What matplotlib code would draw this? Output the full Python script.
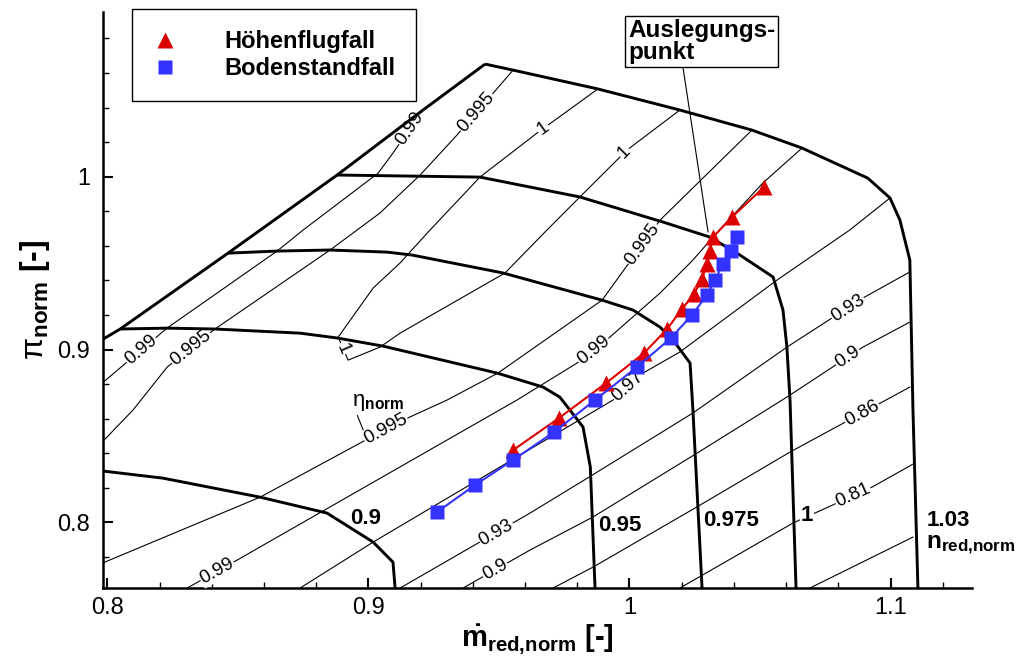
import numpy as np
import matplotlib.pyplot as plt
from matplotlib.lines import Line2D
from matplotlib.ticker import MultipleLocator

plt.rcParams['font.family'] = ['Liberation Sans', 'DejaVu Sans']
plt.rcParams['mathtext.fontset'] = 'custom'
plt.rcParams['mathtext.rm'] = 'Liberation Sans'
plt.rcParams['mathtext.bf'] = 'Liberation Sans:bold'
plt.rcParams['mathtext.it'] = 'Liberation Sans:italic'

# %% Map data

# surge line
surge_x = [0.7984, 0.8049, 0.8462, 0.8880, 0.9209, 0.9447]
surge_y = [0.9061, 0.9119, 0.9558, 1.0010, 1.0386, 1.0652]

# speed lines n_red,norm
n090_x = [0.7984, 0.8213, 0.8585, 0.8841, 0.9018, 0.9094, 0.9102]
n090_y = [0.8297, 0.8256, 0.8146, 0.8054, 0.7886, 0.7770, 0.7620]
n095_x = [0.8049, 0.8229, 0.8412, 0.8738, 0.8880, 0.9056, 0.9493, 0.9669, 0.9733, 0.9772, 0.9822, 0.9850, 0.9868]
n095_y = [0.9119, 0.9124, 0.9119, 0.9095, 0.9067, 0.9020, 0.8864, 0.8783, 0.8725, 0.8650, 0.8552, 0.8320, 0.7620]
n0975_x = [0.8462, 0.8650, 0.8853, 0.9071, 0.9167, 0.9516, 0.9895, 1.0013, 1.0117, 1.0167, 1.0232, 1.0243, 1.0278]
n0975_y = [0.9558, 0.9570, 0.9576, 0.9564, 0.9547, 0.9443, 0.9286, 0.9229, 0.9130, 0.9055, 0.8922, 0.8650, 0.7620]
n100_x = [0.8880, 0.9427, 0.9810, 1.0128, 1.0308, 1.0423, 1.0550, 1.0588, 1.0603, 1.0615, 1.0638]
n100_y = [1.0010, 0.9998, 0.9883, 0.9738, 0.9651, 0.9547, 0.9420, 0.9229, 0.9014, 0.8708, 0.7620]
n103_x = [0.9447, 0.9554, 0.9879, 1.0193, 1.0469, 1.0661, 1.0913, 1.0998, 1.1036, 1.1074, 1.1086, 1.1105]
n103_y = [1.0652, 1.0617, 1.0508, 1.0386, 1.0270, 1.0166, 0.9992, 0.9877, 0.9749, 0.9518, 0.8650, 0.7620]

# efficiency lines eta_norm
e0990a_x = [0.7980, 0.8229, 0.8650, 0.8750, 0.9037, 0.9094, 0.9201]
e0990a_y = [0.8806, 0.9125, 0.9570, 0.9692, 1.0021, 1.0137, 1.0374]
e0995a_x = [0.7980, 0.8098, 0.8229, 0.8412, 0.8853, 0.9044, 0.9198, 0.9339, 0.9554]
e0995a_y = [0.8465, 0.8650, 0.8899, 0.9119, 0.9576, 0.9790, 1.0010, 1.0241, 1.0617]
e1000_x = [0.9879, 0.9646, 0.9427, 0.9236, 0.9121, 0.9018, 0.8884, 0.8922, 0.9044, 0.9121, 0.9523, 0.9684, 0.9810, 0.9990, 1.0193]
e1000_y = [1.0508, 1.0253, 0.9998, 0.9692, 0.9501, 0.9356, 0.9072, 0.8939, 0.9014, 0.9095, 0.9443, 0.9692, 0.9883, 1.0154, 1.0386]
e0995b_x = [0.7980, 0.8585, 0.8968, 0.9133, 0.9301, 0.9496, 0.9895, 1.0117, 1.0469]
e0995b_y = [0.7764, 0.8146, 0.8459, 0.8592, 0.8708, 0.8864, 0.9286, 0.9749, 1.0270]
e0990b_x = [0.8305, 0.8497, 0.9569, 0.9799, 0.9925, 1.0117, 1.0243, 1.0320, 1.0511, 1.0661]
e0990b_y = [0.7620, 0.7782, 0.8708, 0.8922, 0.9072, 0.9327, 0.9518, 0.9651, 0.9964, 1.0166]
e0970_x = [0.8738, 0.9018, 0.9937, 1.0052, 1.0193, 1.0565, 1.0844, 1.0998]
e0970_y = [0.7620, 0.7886, 0.8708, 0.8864, 0.8986, 0.9402, 0.9692, 0.9877]
e0930_x = [0.9121, 0.9619, 0.9845, 1.0243, 1.0603, 1.0894, 1.1074]
e0930_y = [0.7620, 0.8054, 0.8262, 0.8633, 0.9014, 0.9298, 0.9449]
e0900_x = [0.9362, 0.9619, 0.9860, 1.0259, 1.0603, 1.0894, 1.1074]
e0900_y = [0.7620, 0.7840, 0.8031, 0.8401, 0.8725, 0.9014, 0.9159]
e0860_x = [0.9707, 0.9860, 1.0251, 1.0615, 1.1074]
e0860_y = [0.7620, 0.7741, 0.8083, 0.8407, 0.8783]
e0810_x = [1.0193, 1.0626, 1.0929, 1.1093]
e0810_y = [0.7620, 0.7996, 0.8204, 0.8343]
e_edge_x = [1.0691, 1.1086]
e_edge_y = [0.7620, 0.7915]

# operating lines
hoehe_x = [0.9554, 0.9730, 0.9910, 1.0056, 1.0144, 1.0201, 1.0247, 1.0278, 1.0297, 1.0308, 1.0320, 1.0393, 1.0515]
hoehe_y = [0.8418, 0.8604, 0.8806, 0.8980, 0.9119, 0.9234, 0.9321, 0.9408, 0.9495, 0.9570, 0.9651, 0.9767, 0.9940]
boden_x = [0.9263, 0.9408, 0.9554, 0.9711, 0.9868, 1.0029, 1.0159, 1.0239, 1.0297, 1.0327, 1.0358, 1.0389, 1.0412]
boden_y = [0.8060, 0.8216, 0.8361, 0.8523, 0.8708, 0.8899, 0.9067, 0.9200, 0.9315, 0.9402, 0.9495, 0.9570, 0.9651]
design_pt = (1.0301, 0.9680)

# %% Plot

fig = plt.figure(figsize=(10.16, 6.62), dpi=100)
ax = fig.add_axes([0.1011, 0.1122, 0.8553, 0.8696])
ax.set_xlim(0.7982, 1.1311)
ax.set_ylim(0.7622, 1.0953)

RED = "#dd0000"
BLUE = "#3333ff"


def tag(xs, ys, k, f, txt, size=13.5, ang=None):
    # label sitting on segment k of a polyline, blanking the line below it
    x = xs[k] + f * (xs[k + 1] - xs[k])
    y = ys[k] + f * (ys[k + 1] - ys[k])
    if ang is None:
        p0 = ax.transData.transform((xs[k], ys[k]))
        p1 = ax.transData.transform((xs[k + 1], ys[k + 1]))
        ang = np.degrees(np.arctan2(p1[1] - p0[1], p1[0] - p0[0]))
        if ang > 90:
            ang -= 180
        if ang < -90:
            ang += 180
    ax.text(x, y, txt, fontsize=size, rotation=ang, rotation_mode="anchor",
            ha="center", va="center", zorder=3,
            bbox=dict(fc="white", ec="none", pad=0.5))


# efficiency lines
for xs, ys in [(e0990a_x, e0990a_y), (e0995a_x, e0995a_y), (e1000_x, e1000_y),
               (e0995b_x, e0995b_y), (e0990b_x, e0990b_y), (e0970_x, e0970_y),
               (e0930_x, e0930_y), (e0900_x, e0900_y), (e0860_x, e0860_y),
               (e0810_x, e0810_y), (e_edge_x, e_edge_y)]:
    ax.plot(xs, ys, color="black", lw=0.8, zorder=2)

tag(e0990a_x, e0990a_y, 5, 0.6, "0.99")
tag(e0990a_x, e0990a_y, 0, 0.6, "0.99")
tag(e0995a_x, e0995a_y, 2, 0.5, "0.995")
tag(e0995a_x, e0995a_y, 7, 0.35, "0.995")
tag(e1000_x, e1000_y, 0, 0.9, "1")
tag(e1000_x, e1000_y, 12, 0.95, "1")
tag(e1000_x, e1000_y, 6, 0.5, "1")
tag(e0995b_x, e0995b_y, 2, 0.6, "0.995")
tag(e0995b_x, e0995b_y, 6, 0.7, "0.995")
tag(e0990b_x, e0990b_y, 0, 0.6, "0.99")
tag(e0990b_x, e0990b_y, 3, 0.5, "0.99")
tag(e0970_x, e0970_y, 2, 0.5, "0.97")
tag(e0930_x, e0930_y, 0, 0.74, "0.93")
tag(e0930_x, e0930_y, 4, 0.8, "0.93")
tag(e0900_x, e0900_y, 0, 0.48, "0.9")
tag(e0900_x, e0900_y, 4, 0.8, "0.9")
tag(e0860_x, e0860_y, 3, 0.6, "0.86")
tag(e0810_x, e0810_y, 1, 0.76, "0.81")

# surge and speed lines
for xs, ys in [(surge_x, surge_y), (n090_x, n090_y), (n095_x, n095_y),
               (n0975_x, n0975_y), (n100_x, n100_y), (n103_x, n103_y)]:
    ax.plot(xs, ys, color="black", lw=2.1, zorder=4, solid_capstyle="butt")

spd = dict(fontsize=16, fontweight="bold", va="center", zorder=3,
           bbox=dict(fc="white", ec="none", pad=0.5))
ax.text(0.8991, 0.8025, "0.9", ha="center", **spd)
ax.text(0.9964, 0.7984, "0.95", ha="center", **spd)
ax.text(1.0389, 0.8013, "0.975", ha="center", **spd)
ax.text(1.0679, 0.8042, "1", ha="center", **spd)
ax.text(1.1139, 0.8013, "1.03", ha="left", **spd)
ax.text(1.1136, 0.7869, r"$\mathbf{n}_{\mathbf{red{,}norm}}$", ha="left",
        va="center", fontsize=17.5)

ax.annotate(r"$\mathrm{\eta}_{\mathbf{norm}}$", xy=(0.8980, 0.8534),
            xytext=(0.8937, 0.8696), fontsize=16, ha="left", va="center",
            arrowprops=dict(arrowstyle="-", lw=0.8, shrinkA=0, shrinkB=0,
                            relpos=(0.08, 0.0)))

# operating lines
ax.plot(hoehe_x, hoehe_y, color=RED, lw=1.5, marker="^", ms=11, mec="none", zorder=5)
ax.plot(boden_x, boden_y, color=BLUE, lw=1.5, marker="s", ms=10, mec="none", zorder=6)

ax.annotate("Auslegungs-\npunkt", xy=design_pt, xytext=(0.9994, 1.0912),
            textcoords="data", fontsize=17.5, fontweight="bold", ha="left", va="top",
            linespacing=0.92, zorder=7,
            bbox=dict(boxstyle="square,pad=0.12", fc="white", ec="black", lw=1),
            arrowprops=dict(arrowstyle="-", lw=0.8, shrinkA=0, shrinkB=0,
                            relpos=(0.37, 0.0)))

handles = [Line2D([], [], ls="none", marker="^", ms=11, color=RED, mec="none"),
           Line2D([], [], ls="none", marker="s", ms=10, color=BLUE, mec="none")]
leg = ax.legend(handles, ["Höhenflugfall", "Bodenstandfall"], loc="upper left",
                bbox_to_anchor=(132 / 1016, 1 - 9 / 662), bbox_transform=fig.transFigure,
                prop=dict(weight="bold", size=17), frameon=True, fancybox=False,
                edgecolor="black", framealpha=1, handlelength=1.0, handletextpad=2.0,
                borderpad=0.9, labelspacing=0.15, borderaxespad=0)
leg.get_frame().set_linewidth(1.0)
leg.set_zorder(8)

# axes
for s in ["top", "right"]:
    ax.spines[s].set_visible(False)
for s in ["left", "bottom"]:
    ax.spines[s].set_linewidth(1.8)

ax.set_xticks([0.8, 0.9, 1.0, 1.1])
ax.set_xticklabels(["0.8", "0.9", "1", "1.1"])
ax.set_yticks([0.8, 0.9, 1.0])
ax.set_yticklabels(["0.8", "0.9", "1"])
ax.xaxis.set_minor_locator(MultipleLocator(0.02))
ax.yaxis.set_minor_locator(MultipleLocator(0.02))
ax.tick_params(which="both", direction="in", labelsize=17)
ax.tick_params(which="major", length=7, width=1.5)
ax.tick_params(which="minor", length=4, width=1.0)
ax.tick_params(axis="x", pad=7)
ax.tick_params(axis="y", pad=9)

ax.set_xlabel(r"$\mathbf{\dot{m}}_{\mathbf{red{,}norm}}$ [-]", fontsize=21, fontweight="bold",
              labelpad=2)
ax.set_ylabel(r"$\mathrm{\pi}_{\mathbf{norm}}$ [-]", fontsize=23, fontweight="bold",
              labelpad=4)

fig.savefig("out.png", dpi=100, facecolor="white")
